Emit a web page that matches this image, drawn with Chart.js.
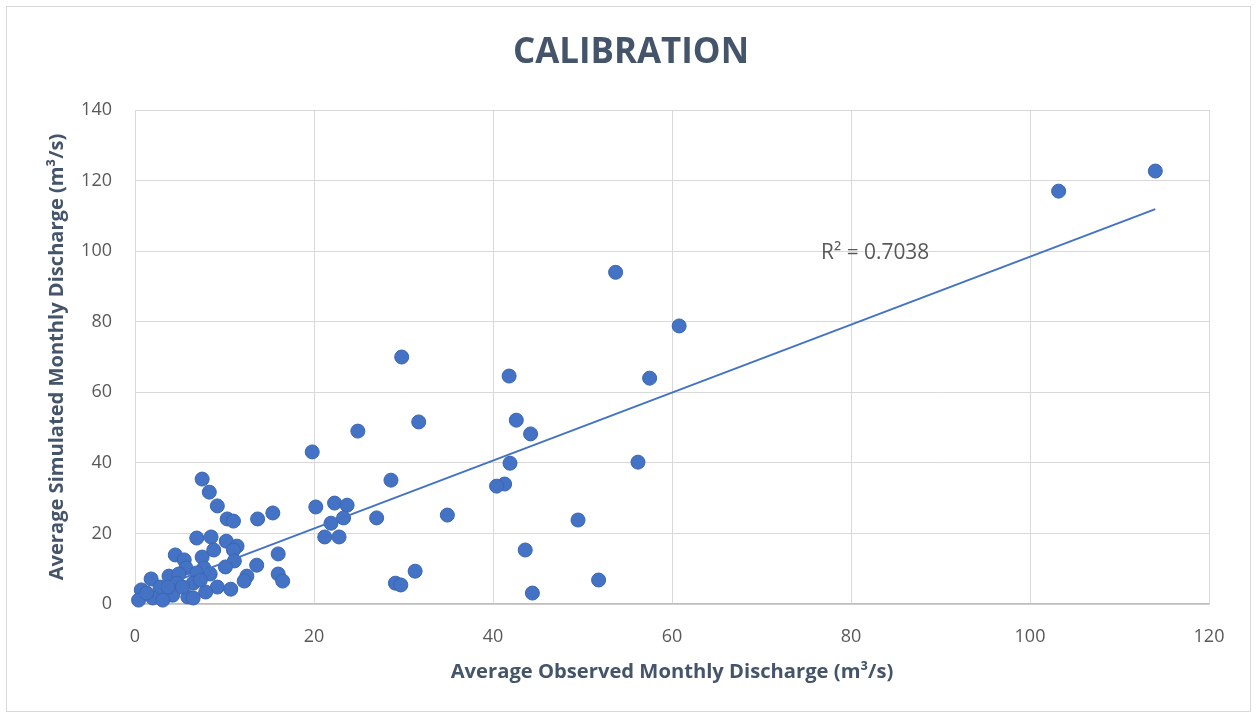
<!DOCTYPE html>
<html>
<head>
<meta charset="utf-8">
<script src="https://cdn.jsdelivr.net/npm/chart.js@4.4.1/dist/chart.umd.min.js"></script>
<style>
html,body{margin:0;padding:0;background:#fff;}
#wrap{position:relative;width:1257px;height:717px;}
</style>
</head>
<body>
<div id="wrap"><canvas id="c" width="1257" height="717"></canvas></div>
<script>
// Observed (x) and simulated (y) monthly discharge, m3/s
const obsX = [114.0,103.2,53.7,60.8,57.5,29.8,41.8,42.6,44.2,31.7,24.9,19.8,56.2,41.9,41.3,40.4,28.6,22.3,23.7,20.2,23.3,21.9,27.0,34.9,49.5,21.2,22.8,43.6,31.3,29.1,29.7,44.4,51.8,
  7.5,8.3,9.2,10.3,11.0,13.7,15.4,6.9,8.5,10.2,11.4,11.0,8.8,4.5,7.5,16.0,11.1,10.1,13.6,5.5,5.7,7.7,8.4,6.9,3.8,4.9,1.8,12.5,12.2,16.0,16.5,9.2,10.7,7.9,6.5,5.9,6.5,4.2,2.8,4.7,0.7,0.4,2.0,3.1,1.3,3.7,5.3,7.3];
const simY = [122.7,117.0,94.0,78.8,64.0,70.0,64.6,52.1,48.2,51.6,49.0,43.1,40.2,39.9,34.0,33.4,35.1,28.6,28.0,27.5,24.4,22.9,24.4,25.2,23.8,19.0,19.0,15.3,9.3,5.9,5.4,3.1,6.8,
  35.4,31.7,27.8,24.1,23.5,24.1,25.8,18.7,19.0,17.8,16.4,15.3,15.3,13.9,13.3,14.2,12.2,10.5,11.0,12.5,10.2,10.2,8.5,8.8,7.9,8.5,7.1,7.9,6.5,8.5,6.5,4.8,4.2,3.4,5.9,2.0,1.7,2.5,4.8,5.9,4.0,1.1,1.7,1.1,3.1,4.8,4.8,6.8];
// Linear trendline endpoints
const trendX = [0.4, 114.0];
const trendY = [2.5, 111.9];
const xTicks = [0,20,40,60,80,100,120];
const yTicks = [0,20,40,60,80,100,120,140];
const chartTitle = "CALIBRATION";
const xTitle = "Average Observed Monthly Discharge (m\u00B3/s)";
const yTitle = "Average Simulated Monthly Discharge (m\u00B3/s)";
const r2Label = "R\u00B2 = 0.7038";
const r2Pos = [82.7, 99.4];

const scatterData = obsX.map((x,i)=>({x:x,y:simY[i]}));
const trendData = trendX.map((x,i)=>({x:x,y:trendY[i]}));

const TXT = "#44546A", TICK = "#595959";
const FONT = "'Open Sans', 'Liberation Sans', sans-serif";

function fitFont(ctx, text, weight, family, targetW){
  ctx.font = weight+" 100px "+family;
  const w = ctx.measureText(text).width;
  return 100*targetW/w;
}

const decor = {
  id:'decor',
  beforeDraw(chart){
    const ctx = chart.ctx;
    ctx.save();
    ctx.fillStyle='#fff';
    ctx.fillRect(0,0,chart.width,chart.height);
    ctx.strokeStyle='#D9D9D9';
    ctx.lineWidth=1;
    ctx.strokeRect(6.5,6.5,1244,705);
    ctx.restore();
  },
  afterDraw(chart){
    const ctx = chart.ctx;
    const xs = chart.scales.x, ys = chart.scales.y;
    ctx.save();
    ctx.textAlign='center'; ctx.textBaseline='middle';
    let fs = fitFont(ctx, chartTitle, 'bold', FONT, 236);
    ctx.font = 'bold '+fs.toFixed(1)+'px '+FONT;
    ctx.fillStyle = TXT;
    ctx.fillText(chartTitle, 631, 53);
    fs = fitFont(ctx, xTitle, 'bold', FONT, 442);
    ctx.font = 'bold '+fs.toFixed(1)+'px '+FONT;
    ctx.fillText(xTitle, 672, 672);
    ctx.save();
    ctx.translate(57, 357);
    ctx.rotate(-Math.PI/2);
    fs = fitFont(ctx, yTitle, 'bold', FONT, 447);
    ctx.font = 'bold '+fs.toFixed(1)+'px '+FONT;
    ctx.fillText(yTitle, 0, 0);
    ctx.restore();
    fs = fitFont(ctx, r2Label, 'normal', FONT, 108);
    ctx.font = 'normal '+fs.toFixed(1)+'px '+FONT;
    ctx.fillStyle = TICK;
    ctx.fillText(r2Label, xs.getPixelForValue(r2Pos[0]), ys.getPixelForValue(r2Pos[1]));
    ctx.restore();
  }
};

new Chart(document.getElementById('c'), {
  type:'scatter',
  data:{datasets:[
    {label:'Calibration', data:scatterData, backgroundColor:'#4472C4', borderColor:'#3C66B3', borderWidth:1, pointRadius:7, pointHoverRadius:7, clip:false, order:2},
    {label:'Linear', type:'line', data:trendData, borderColor:'#4472C4', borderWidth:2, pointRadius:0, fill:false, showLine:true, order:1}
  ]},
  options:{
    responsive:false, animation:false, devicePixelRatio:1,
    layout:{padding:{left:0,right:48,top:110,bottom:0}},
    plugins:{legend:{display:false}, title:{display:false}, tooltip:{enabled:false}},
    scales:{
      x:{type:'linear', min:0, max:120,
        afterBuildTicks(s){ s.ticks = xTicks.map(v=>({value:v})); },
        afterFit(s){ s.height = 113; },
        grid:{color:'#D9D9D9', lineWidth:1, drawTicks:false},
        border:{color:'#BFBFBF', width:1.5},
        ticks:{color:TICK, padding:22, font:{family:FONT, size:18}}
      },
      y:{type:'linear', min:0, max:140,
        afterBuildTicks(s){ s.ticks = yTicks.map(v=>({value:v})); },
        afterFit(s){ s.width = 135; },
        grid:{color:'#D9D9D9', lineWidth:1, drawTicks:false},
        border:{color:'#D9D9D9', width:1},
        ticks:{color:TICK, padding:23, font:{family:FONT, size:18}}
      }
    }
  },
  plugins:[decor]
});
</script>
</body>
</html>
